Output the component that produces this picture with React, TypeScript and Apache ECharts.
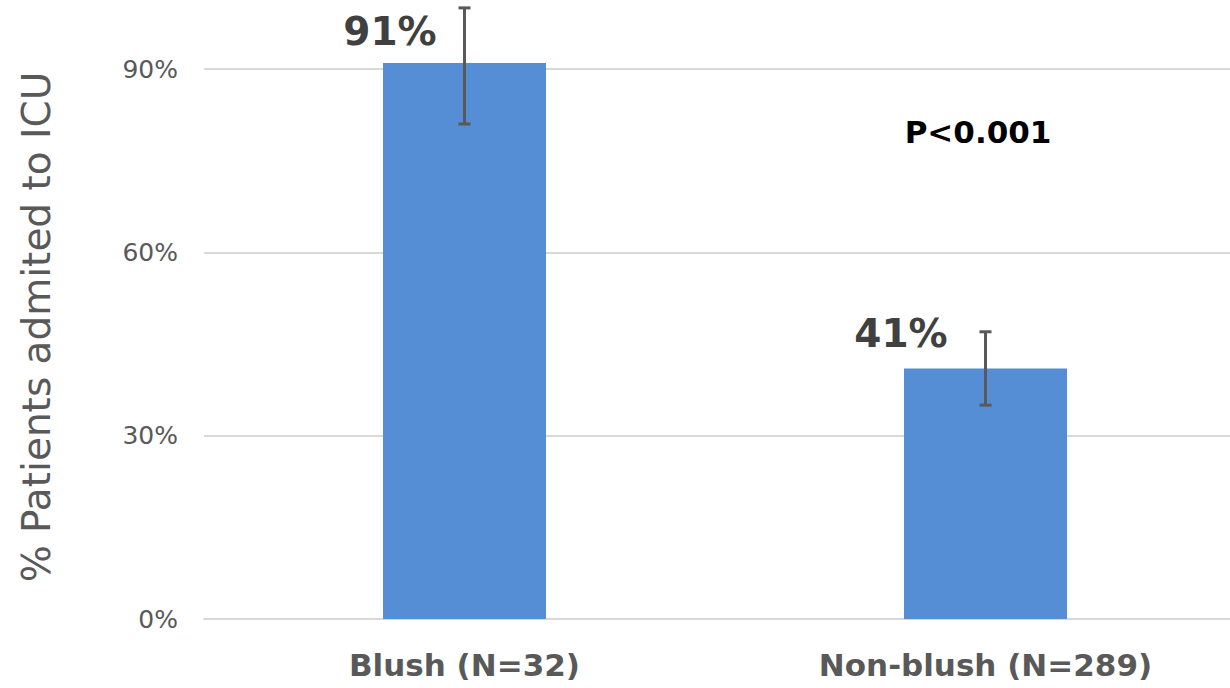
import React, { useEffect, useRef } from "react";
import * as echarts from "echarts";

// Share of patients admitted to ICU, by blush status
const categories = ["Blush (N=32)", "Non-blush (N=289)"];
const admittedPct = [91, 41];
const errorLow = [81, 35];
const errorHigh = [100, 47];
const yTicks = [0, 30, 60, 90];
const pValueText = "P<0.001";
const yTitle = "% Patients admited to ICU";

const FONT = "'DejaVu Sans', sans-serif";
const GRAY = "#595959";

export default function App() {
  const ref = useRef<HTMLDivElement>(null);

  useEffect(() => {
    if (!ref.current) return;
    const chart = echarts.init(ref.current, undefined, { renderer: "svg" });

    // per-bar label placement relative to the bar rectangle
    const labelOffsets: [number, number][] = [
      [7, -31],
      [-3, -35],
    ];

    chart.setOption({
      animation: false,
      backgroundColor: "#ffffff",
      grid: {
        left: 204,
        width: 1042,
        top: 69,
        bottom: 69,
        containLabel: false,
        outerBoundsMode: "none",
      },
      xAxis: {
        type: "category",
        data: categories,
        axisLine: { show: true, lineStyle: { color: "#d9d9d9", width: 2 } },
        axisTick: { show: false },
        axisLabel: {
          color: GRAY,
          fontFamily: FONT,
          fontWeight: "bold",
          fontSize: 31,
          margin: 30,
        },
      },
      yAxis: {
        type: "value",
        min: yTicks[0],
        max: yTicks[yTicks.length - 1],
        interval: 30,
        axisLine: { show: false },
        axisTick: { show: false },
        splitLine: { lineStyle: { color: "#d9d9d9", width: 2 } },
        axisLabel: {
          color: GRAY,
          fontFamily: FONT,
          fontSize: 25,
          margin: 26,
          formatter: (v: number) => `${v}%`,
        },
      },
      series: [
        {
          type: "bar",
          clip: false,
          barWidth: 163,
          itemStyle: { color: "#558ed5" },
          data: admittedPct.map((v, i) => ({
            value: v,
            label: {
              show: true,
              position: labelOffsets[i],
              align: "center",
              verticalAlign: "middle",
              formatter: `${v}%`,
              color: "#404040",
              fontFamily: FONT,
              fontWeight: "bold",
              fontSize: 39,
            },
          })),
        },
        {
          type: "custom",
          clip: false,
          z: 5,
          data: categories.map((_, i) => [i, errorLow[i], errorHigh[i]]),
          renderItem: (params: any, api: any) => {
            const idx = api.value(0);
            const lo = api.coord([idx, api.value(1)]);
            const hi = api.coord([idx, api.value(2)]);
            const cap = 6;
            const style = { stroke: GRAY, lineWidth: 3 };
            return {
              type: "group",
              children: [
                { type: "line", shape: { x1: lo[0], y1: lo[1], x2: hi[0], y2: hi[1] }, style },
                { type: "line", shape: { x1: hi[0] - cap, y1: hi[1], x2: hi[0] + cap, y2: hi[1] }, style },
                { type: "line", shape: { x1: lo[0] - cap, y1: lo[1], x2: lo[0] + cap, y2: lo[1] }, style },
              ],
            };
          },
        },
      ],
      graphic: [
        {
          type: "text",
          x: 978,
          y: 132,
          style: {
            text: pValueText,
            fill: "#000000",
            font: `bold 31px ${FONT}`,
            textAlign: "center",
            textVerticalAlign: "middle",
          },
        },
        {
          type: "text",
          x: 36,
          y: 327,
          rotation: Math.PI / 2,
          style: {
            text: yTitle,
            fill: GRAY,
            font: `39px ${FONT}`,
            textAlign: "center",
            textVerticalAlign: "middle",
          },
        },
      ],
    });

    return () => chart.dispose();
  }, []);

  return (
    <div
      ref={ref}
      style={{ position: "fixed", left: 0, top: 0, width: 1230, height: 688 }}
    />
  );
}
